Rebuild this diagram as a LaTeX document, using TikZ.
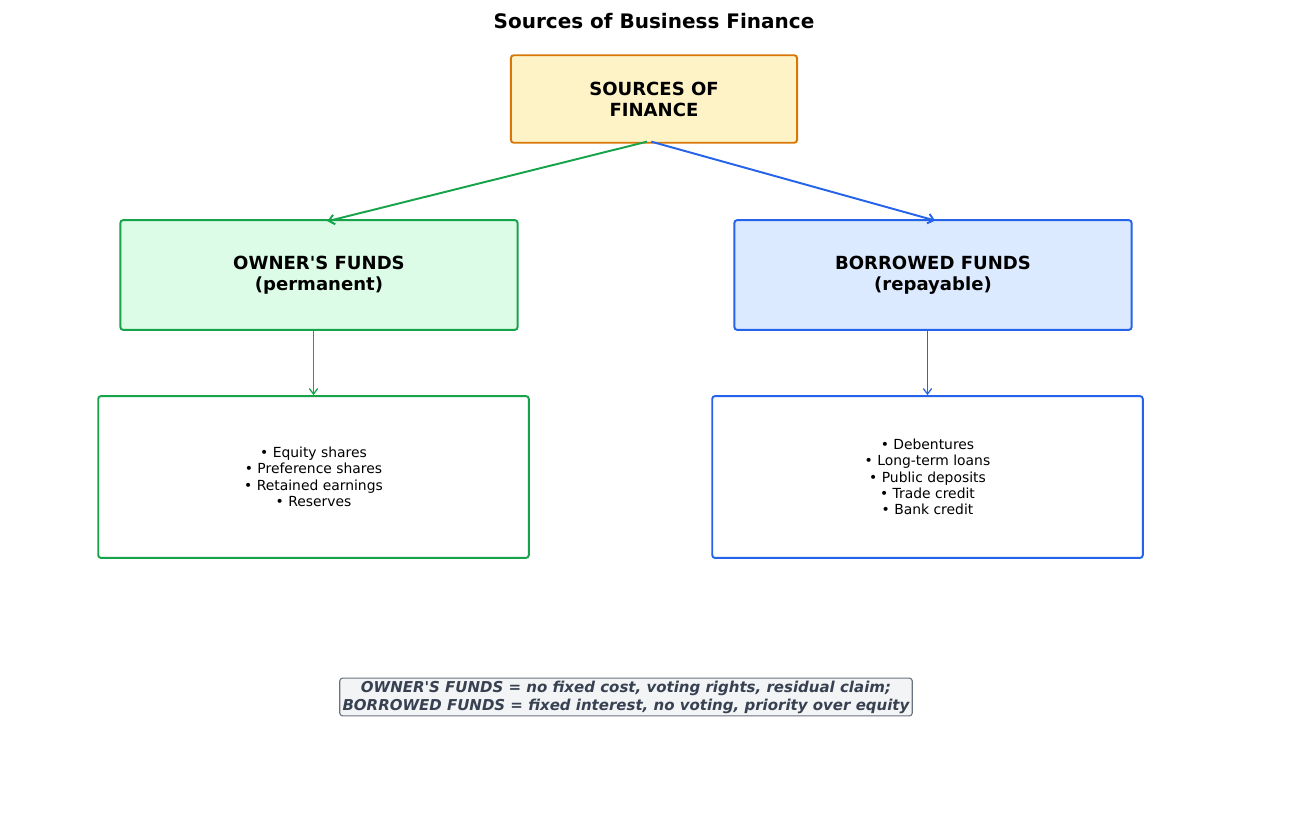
\documentclass[tikz,border=0pt]{standalone}
\usepackage{fontspec}
\setmainfont{DejaVu Sans}
\usepackage{tikz}
\usetikzlibrary{arrows.meta, positioning, calc}
\definecolor{srcdraw}{HTML}{D97706}
\definecolor{srcfill}{HTML}{FEF3C7}
\definecolor{owndraw}{HTML}{16A34A}
\definecolor{ownfill}{HTML}{DCFCE7}
\definecolor{borrdraw}{HTML}{2563EB}
\definecolor{borrfill}{HTML}{DBEAFE}
\definecolor{notefill}{HTML}{F3F4F6}
\definecolor{notedraw}{HTML}{6B7280}
\definecolor{notetext}{HTML}{374151}
\tikzset{
    headbox/.style={
        rectangle, rounded corners=2pt, line width=1.4pt, align=center,
        font=\fontsize{13}{15.2}\selectfont\bfseries
    },
    source_box/.style={
        headbox, minimum width=206pt, minimum height=63pt, draw=srcdraw, fill=srcfill
    },
    owner_box/.style={
        headbox, minimum width=286pt, minimum height=79pt, draw=owndraw, fill=ownfill
    },
    borrow_box/.style={
        headbox, minimum width=286pt, minimum height=79pt, draw=borrdraw, fill=borrfill
    },
    list_box/.style={
        rectangle, rounded corners=2pt, line width=1.4pt, align=center, fill=white,
        minimum width=310pt, minimum height=116.5pt, font=\fontsize{10}{11.8}\selectfont
    },
    note_box/.style={
        rectangle, rounded corners=2pt, draw=notedraw, fill=notefill, line width=0.8pt,
        align=center, inner xsep=2pt, inner ysep=1.8pt, text=notetext,
        font=\fontsize{10.8}{13}\selectfont\bfseries\itshape
    },
    arrow_green/.style={
        line width=1.4pt, -{Straight Barb[length=4pt, width=7pt]}, draw=owndraw
    },
    arrow_blue/.style={
        line width=1.4pt, -{Straight Barb[length=4pt, width=7pt]}, draw=borrdraw
    },
    thin_green/.style={
        line width=0.9pt, -{Straight Barb[length=4pt, width=6pt]}, draw=owndraw
    },
    thin_blue/.style={
        line width=0.9pt, -{Straight Barb[length=4pt, width=6pt]}, draw=borrdraw
    }
}
\begin{document}
\begin{tikzpicture}[x=0.72pt, y=-0.72pt]
    \useasboundingbox (0,0) rectangle (1307,826);
    % Titel
    \node[font=\fontsize{14.4}{16}\selectfont\bfseries] (title) at (654, 21) {Sources of Business Finance};

    % Kopf
    \node[source_box] (src) at (654, 99) {SOURCES OF\\FINANCE};

    % Zwei Zweige
    \node[owner_box] (owner) at (319, 275) {OWNER\textquotesingle S FUNDS\\(permanent)};
    \node[borrow_box] (borrow) at (933, 275) {BORROWED FUNDS\\(repayable)};

    % Listen
    \node[list_box, draw=owndraw] (ownlist) at (313.5, 477) {• Equity shares\\• Preference shares\\• Retained earnings\\• Reserves};
    \node[list_box, draw=borrdraw] (borrlist) at (927.5, 477) {• Debentures\\• Long-term loans\\• Public deposits\\• Trade credit\\• Bank credit};

    % Verbindungen
    \draw[arrow_green] ([xshift=-5pt, yshift=1.5pt]src.south) -- ([xshift=6pt, yshift=-1.5pt]owner.north);
    \draw[arrow_blue] ([xshift=-2pt, yshift=1.5pt]src.south) -- ([xshift=1.5pt, yshift=-1pt]borrow.north);
    \draw[thin_green] (owner.south -| ownlist.north) -- (ownlist.north);
    \draw[thin_blue] (borrow.south -| borrlist.north) -- (borrlist.north);

    % Hinweis
    \node[note_box] (note) at (626, 697) {OWNER\textquotesingle S FUNDS = no fixed cost, voting rights, residual claim;\\BORROWED FUNDS = fixed interest, no voting, priority over equity};
\end{tikzpicture}
\end{document}
